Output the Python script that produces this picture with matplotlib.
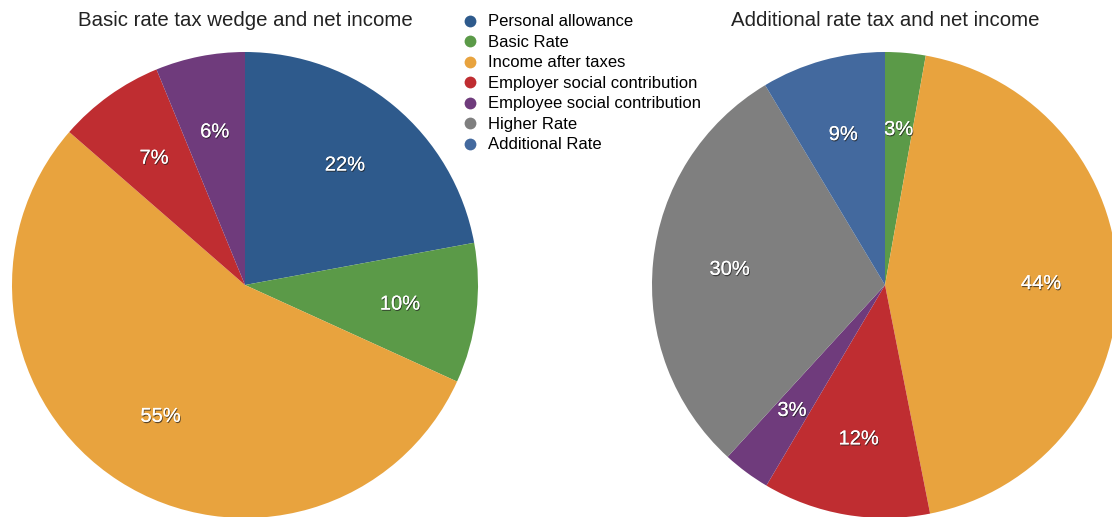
import matplotlib
matplotlib.use("Agg")
import matplotlib.pyplot as plt
import matplotlib.patheffects as pe
from matplotlib.lines import Line2D

plt.rcParams['font.family'] = ['Liberation Sans', 'DejaVu Sans']

categories = ["Personal allowance", "Basic Rate", "Income after taxes",
              "Employer social contribution", "Employee social contribution",
              "Higher Rate", "Additional Rate"]
colors = {
    "Personal allowance": "#2e5a8c",
    "Basic Rate": "#5b9a48",
    "Income after taxes": "#e8a33e",
    "Employer social contribution": "#bf2d31",
    "Employee social contribution": "#6f3b7c",
    "Higher Rate": "#7f7f7f",
    "Additional Rate": "#43699e",
}

basic_cats = ["Personal allowance", "Basic Rate", "Income after taxes",
              "Employer social contribution", "Employee social contribution"]
basic_vals = [22.1, 9.7, 54.6, 7.4, 6.2]

add_cats = ["Basic Rate", "Income after taxes", "Employer social contribution",
            "Employee social contribution", "Higher Rate", "Additional Rate"]
add_vals = [2.8, 44.1, 11.6, 3.3, 29.6, 8.6]

W, H = 1112, 517
fig = plt.figure(figsize=(W / 100, H / 100), dpi=100)

def ax_at(x0, y0, w, h):
    return fig.add_axes([x0 / W, 1 - (y0 + h) / H, w / W, h / H])

shadow = [pe.withSimplePatchShadow(offset=(0.6, -0.9), shadow_rgbFace='#222222', alpha=0.7), pe.Normal()]

def draw(ax, cats, vals, title, cx):
    wedges, texts, autotexts = ax.pie(
        vals, colors=[colors[c] for c in cats], startangle=90, counterclock=False,
        autopct='%.0f%%', pctdistance=0.67, radius=1.0,
        wedgeprops=dict(linewidth=0),
        textprops=dict(color='white', fontsize=14.5))
    for t in autotexts:
        t.set_path_effects(shadow)
    ax.set_xlim(-1, 1)
    ax.set_ylim(-1, 1)
    ax.set_aspect('equal')
    ax.axis('off')
    fig.text(cx / W, 1 - 21 / H, title, ha='center', va='center', fontsize=14.7, color='#222222')

ax1 = ax_at(12, 52, 466, 466)
draw(ax1, basic_cats, basic_vals, "Basic rate tax wedge and net income", 245)
ax2 = ax_at(652, 52, 466, 466)
draw(ax2, add_cats, add_vals, "Additional rate tax and net income", 885)

handles = [Line2D([0], [0], marker='o', linestyle='none', markersize=8.5,
                  markerfacecolor=colors[c], markeredgewidth=0) for c in categories]
fig.legend(handles, categories, loc='upper left', bbox_to_anchor=(458 / W, 1 - 11 / H),
           frameon=False, fontsize=12, handlelength=1.0, handletextpad=0.6,
           labelspacing=0.33, borderpad=0.2, borderaxespad=0)

fig.savefig("out.png", dpi=100)
